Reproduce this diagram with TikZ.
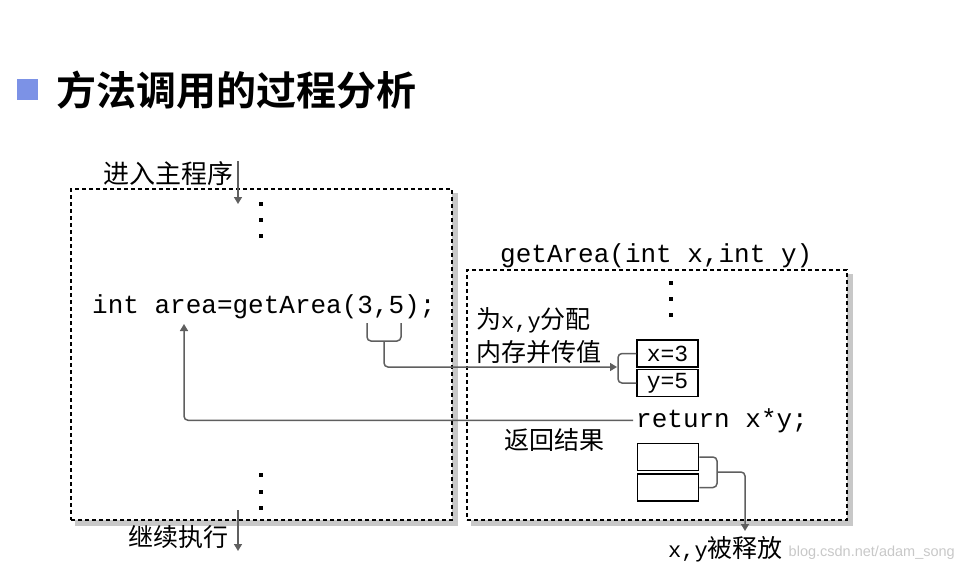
\documentclass[tikz,border=0pt]{standalone}
\usepackage{fontspec}
\setmainfont{Liberation Sans}
\newfontfamily\cjk[BoldFont={Noto Sans CJK SC Bold}]{Noto Sans CJK SC}
\newfontfamily\mono{Liberation Mono}
\usetikzlibrary{arrows.meta}
\definecolor{titleblue}{RGB}{124,146,230}
\definecolor{lnc}{RGB}{95,95,95}
\definecolor{shadowc}{RGB}{200,200,200}
\definecolor{wmark}{RGB}{200,200,200}
\pgfdeclarelayer{bg}
\pgfsetlayers{bg,main}
\begin{document}
\begin{tikzpicture}[x=1pt,y=-1pt,
  frame/.style={draw=black, fill=white, dash pattern=on 4pt off 3pt, line width=1.6pt, inner sep=0},
  valbox/.style={draw=black, line width=1.5pt, minimum width=61pt, minimum height=27pt, inner sep=0, font=\mono\fontsize{23}{23}\selectfont},
  cjktext/.style={font=\cjk\fontsize{25}{25}\selectfont, inner sep=0},
  code/.style={font=\mono\fontsize{26}{26}\selectfont, inner sep=0},
  conn/.style={draw=lnc, line width=1.5pt, rounded corners=4pt},
  arr/.style={-{Triangle[width=8pt,length=7pt]}},
  dotsq/.style={fill=black, minimum size=4pt, inner sep=0}
]
\useasboundingbox (0,0) rectangle (964,568);

% watermark
\node[anchor=base east, font=\fontsize{14.5}{14.5}\selectfont, text=wmark, inner sep=0] (wm) at (955,556) {blog.csdn.net/adam\_song};

% title
\node[fill=titleblue, minimum size=21pt, inner sep=0] (bullet) at (27.5,89.5) {};
\node[anchor=west, font=\cjk\bfseries\fontsize{40}{40}\selectfont, inner sep=0] (title) at (56,90) {方法调用的过程分析};

% frames
\node[frame, minimum width=381pt, minimum height=331pt] (mainbox) at (261.5,354.5) {};
\node[frame, minimum width=380pt, minimum height=250pt] (funcbox) at (657,395) {};
\begin{pgfonlayer}{bg}
\fill[shadowc] ([shift={(5,5)}]mainbox.north west) rectangle ([shift={(5,5)}]mainbox.south east);
\fill[shadowc] ([shift={(5,5)}]funcbox.north west) rectangle ([shift={(5,5)}]funcbox.south east);
\end{pgfonlayer}

% dots
\foreach \p/\n in {{(261,204)}/a1,{(261,220)}/a2,{(261,236)}/a3,{(261,475)}/b1,{(261,492)}/b2,{(261,508)}/b3,{(671,283)}/c1,{(671,299)}/c2,{(671,315)}/c3}
  \node[dotsq] (dot\n) at \p {};

% texts
\node[cjktext, anchor=west, font=\cjk\fontsize{26}{26}\selectfont] (enter) at (103,174) {进入主程序};
\node[code, anchor=base west] (call) at (92,313) {int area=getArea(3,5);};
\node[code, anchor=base west] (sig) at (500,262) {getArea(int x,int y)};
\node[cjktext, anchor=west] (alloc1) at (476,320) {为{\mono\fontsize{22}{22}\selectfont x,y}分配};
\node[cjktext, anchor=west] (alloc2) at (476,352) {内存并传值};
\node[valbox] (xval) at (667.5,353.5) {x=3};
\node[valbox] (yval) at (667.5,383) {y=5};
\node[code, anchor=base west] (ret) at (636,427) {return x*y;};
\node[cjktext, anchor=west] (retlabel) at (504,440) {返回结果};
\node[valbox] (xfree) at (668,457) {};
\node[valbox] (yfree) at (668,487.5) {};
\node[cjktext, anchor=west] (cont) at (128,537) {继续执行};
\node[cjktext, anchor=west] (release) at (668,549) {{\mono\fontsize{22}{22}\selectfont x,y}被释放};

% coordinates
\coordinate (enterTop) at (238,161);
\coordinate (enterTip) at (238,204);
\coordinate (contTop) at (238,510);
\coordinate (contTip) at (238,551);
\coordinate (argL) at (367,323);
\coordinate (argR) at (401,323);
\coordinate (argM) at (384,341);
\coordinate (argTip) at (617,367);
\coordinate (valB) at (618,368);
\coordinate (areaTip) at (184,324);
\coordinate (freeB) at (717,472);
\coordinate (freeTip) at (745,531);

% connectors
\draw[conn, arr] (enterTop) -- (enterTip);
\draw[conn, arr] (contTop) -- (contTip);
\draw[conn] (argL) |- (argM) -| (argR);
\draw[conn, arr] (argM) |- (argTip);
\draw[conn] (xval.west) -| (valB) |- (yval.west);
\draw[conn, arr] ([xshift=-3pt]ret.west) -| (areaTip);
\draw[conn] (xfree.east) -| (freeB) |- (yfree.east);
\draw[conn, arr] (freeB) -| (freeTip);
\end{tikzpicture}
\end{document}
